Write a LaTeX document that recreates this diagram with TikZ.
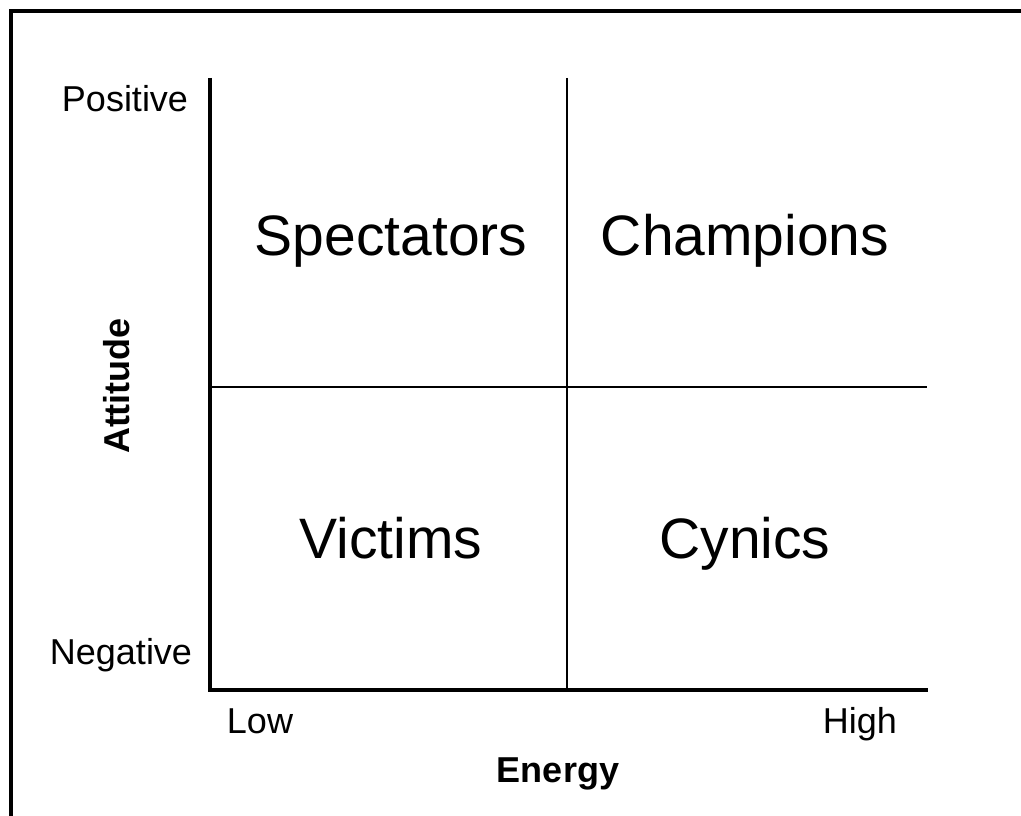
\documentclass[tikz,border=0pt]{standalone}
\usepackage{fontspec}
\setmainfont{Liberation Sans}
\begin{document}
\begin{tikzpicture}[x=1pt,y=-1pt,
  axis/.style={line width=4pt},
  divider/.style={line width=1.5pt},
  quad/.style={font=\fontsize{57}{60}\selectfont, anchor=base},
  tick/.style={font=\fontsize{36}{40}\selectfont, anchor=base},
  axlabel/.style={font=\fontsize{36}{40}\selectfont\bfseries, anchor=base}]
\useasboundingbox[clip] (0,0) rectangle (1021,816);
\fill[white] (0,0) rectangle (1021,816);
\draw[line width=4pt] (11,1000) -- (11,11) -- (1100,11);
% axes
\coordinate (top) at (210,78);
\coordinate (origin) at (210,690);
\coordinate (right) at (928,690);
\draw[axis] (top) -- (origin) -- (right);
% dividers
\coordinate (vt) at (567,78);
\coordinate (vb) at (567,690);
\coordinate (hl) at (210,387);
\coordinate (hr) at (927,387);
\draw[divider] (vt) -- (vb);
\draw[divider] (hl) -- (hr);
% quadrant labels
\node[quad] (spect) at (391,255) {Spectators};
\node[quad] (champ) at (745,255) {Champions};
\node[quad] (vict) at (391,558) {Victims};
\node[quad] (cyn) at (745,558) {Cynics};
% tick labels
\node[tick] (pos) at (125,112) {Positive};
\node[tick] (neg) at (121,664) {Negative};
\node[tick] (low) at (260,733) {Low};
\node[tick] (high) at (860,733) {High};
% axis labels
\node[axlabel] (energy) at (558,782) {Energy};
\node[font=\fontsize{36}{40}\selectfont\bfseries, rotate=90] (att) at (117,386) {Attitude};
\end{tikzpicture}
\end{document}
